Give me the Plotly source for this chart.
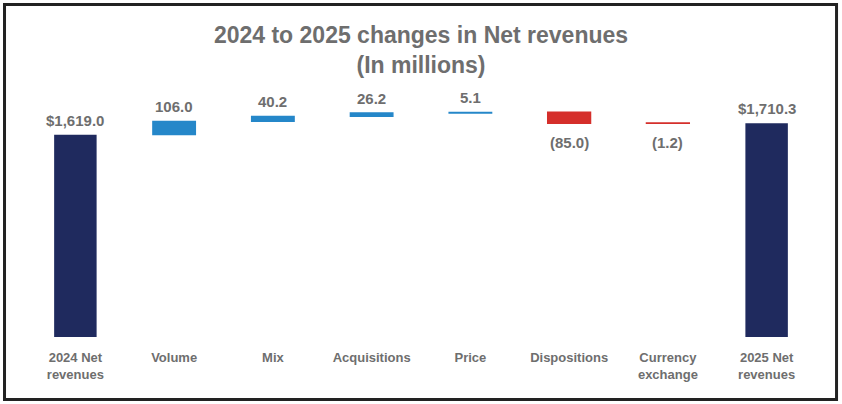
import plotly.graph_objects as go

categories = ["2024 Net<br>revenues", "Volume", "Mix", "Acquisitions", "Price",
              "Dispositions", "Currency<br>exchange", "2025 Net<br>revenues"]
values = [1619.0, 106.0, 40.2, 26.2, 5.1, -85.0, -1.2, 1710.3]
measures = ["absolute", "relative", "relative", "relative", "relative",
            "relative", "relative", "total"]
labels = ["$1,619.0", "106.0", "40.2", "26.2", "5.1", "(85.0)", "(1.2)", "$1,710.3"]

NAVY = "#1f2a5e"
BLUE = "#2587c9"
RED = "#d52f2b"
GREY = "#6e6e6e"
FONT = "Arial, Liberation Sans, sans-serif"

fig = go.Figure(go.Waterfall(
    x=categories, y=values, measure=measures,
    width=0.43,
    increasing=dict(marker=dict(color=BLUE, line=dict(color=BLUE, width=1.4))),
    decreasing=dict(marker=dict(color=RED, line=dict(color=RED, width=1.8))),
    totals=dict(marker=dict(color=NAVY, line=dict(color=NAVY, width=0))),
    connector=dict(visible=False),
    hoverinfo="skip",
))

# label positions derived from the data
cum = []
running = 0.0
for v, m in zip(values, measures):
    if m == "absolute":
        running = v
    elif m == "relative":
        running += v
    cum.append(running)

for c, v, m, lab, end in zip(categories, values, measures, labels, cum):
    if m == "relative" and v < 0:
        fig.add_annotation(x=c, y=end, text=lab, showarrow=False,
                           yanchor="top", yshift=-9,
                           font=dict(family=FONT, size=15, color=GREY, weight="bold"))
    else:
        fig.add_annotation(x=c, y=end, text=lab, showarrow=False,
                           yanchor="bottom", yshift=4,
                           font=dict(family=FONT, size=15, color=GREY, weight="bold"))

fig.add_shape(type="rect", xref="paper", yref="paper",
              x0=-0.0272, x1=1.026, y0=-0.25, y1=1.33,
              line=dict(color="#222222", width=3), layer="above")

fig.update_layout(
    width=842, height=404,
    margin=dict(l=26, r=26, t=87, b=67),
    paper_bgcolor="white", plot_bgcolor="white",
    showlegend=False,
    title=dict(text="2024 to 2025 changes in Net revenues<br>(In millions)",
               x=0.5, xanchor="center", y=1 - 43/404, yanchor="top",
               font=dict(family=FONT, size=23, color=GREY, weight="bold")),
    xaxis=dict(showgrid=False, showline=False, zeroline=False, ticks="",
               ticklabelstandoff=11,
               tickfont=dict(family=FONT, size=13, color=GREY, weight="bold"),
               range=[-0.5, 7.5]),
    yaxis=dict(visible=False, range=[0, 2000]),
)

fig.write_html("out.html", config={"displayModeBar": False},
               post_script="document.body.style.margin='0';")
